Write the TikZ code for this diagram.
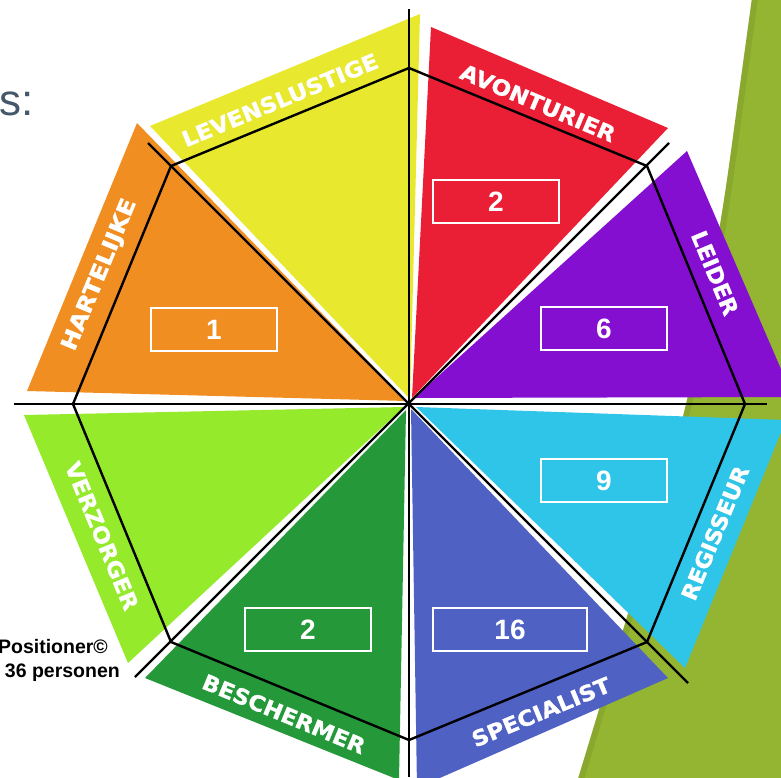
\documentclass[tikz,border=0pt]{standalone}
\usepackage{fontspec}
\setmainfont{Liberation Sans}
\newfontfamily\bandfont{DejaVu Sans Bold}[FakeBold=1.2]
\usepackage{graphicx}
\definecolor{cyel}{HTML}{E8E92E}
\definecolor{cora}{HTML}{F18E22}
\definecolor{cred}{HTML}{EA1F35}
\definecolor{cpur}{HTML}{850FD0}
\definecolor{ccya}{HTML}{2FC5E8}
\definecolor{cblu}{HTML}{4F62C4}
\definecolor{cdgr}{HTML}{25993A}
\definecolor{clim}{HTML}{95EA2B}
\definecolor{coli}{HTML}{93B532}
\definecolor{coli2}{HTML}{7A9626}
\definecolor{cslate}{HTML}{44586A}
\newcommand{\bandtext}[2]{\resizebox{#1}{16pt}{\bandfont #2}}
\begin{document}
\begin{tikzpicture}[x=1pt,y=-1pt,
  blk/.style={line width=2.4pt, black, line cap=butt},
  oct/.style={line width=2.4pt, black, line join=miter},
  numbox/.style={draw=white, line width=2.3pt, minimum height=43pt, text=white,
    font=\fontsize{28}{30}\selectfont\bfseries, inner sep=0pt},
  bandlbl/.style={text=white, inner sep=0pt}]
\useasboundingbox (0,0) rectangle (781,777);
\clip (0,0) rectangle (781,777);
% olive background shape on the right
\fill[coli] plot[smooth, tension=0.6] coordinates {(752,-2) (738,100) (724,200) (707,300) (687,400) (658,510) (627,617) (598,713) (578,779)} -- (783,779) -- (783,-2) -- cycle;
\draw[coli2, line width=6pt, opacity=0.4] plot[smooth, tension=0.6] coordinates {(755,-2) (741,100) (727,200) (710,300) (690,400) (661,510) (630,617) (601,713) (581,779)};
% sectors
\fill[cora] (137,123) -- (27,391) -- (407,401) -- cycle;
\fill[cyel] (150,126) -- (420,14) -- (410,399) -- cycle;
\fill[cred] (431,27) -- (668,128) -- (412,398) -- cycle;
\fill[cpur] (687,151) -- (793,397) -- (414,398) -- cycle;
\fill[ccya] (416,407) -- (786,420) -- (685,668) -- cycle;
\fill[cblu] (411,409) -- (668,678) -- (417,788) -- cycle;
\fill[cdgr] (406,410) -- (399,780) -- (145,678) -- cycle;
\fill[clim] (404,407) -- (24,415) -- (128,663) -- cycle;
% coordinates
\coordinate (c) at (409,404);
\coordinate (o1) at (409,68);
\coordinate (o2) at (647,166);
\coordinate (o3) at (745,404);
\coordinate (o4) at (647,642);
\coordinate (o5) at (409,740);
\coordinate (o6) at (171,642);
\coordinate (o7) at (73,404);
\coordinate (o8) at (171,166);
\coordinate (vt) at (409,9);
\coordinate (vb) at (409,777);
\coordinate (hl) at (14,404);
\coordinate (hr) at (767,404);
\coordinate (d1a) at (148,143);
\coordinate (d1b) at (688,683);
\coordinate (d2a) at (669,143);
\coordinate (d2b) at (135,677);
% axes
\draw[blk] (vt) -- (vb);
\draw[blk] (hl) -- (hr);
\draw[blk] (d1a) -- (d1b);
\draw[blk] (d2a) -- (d2b);
% octagon
\draw[oct] (o1) -- (o2) -- (o3) -- (o4) -- (o5) -- (o6) -- (o7) -- (o8) -- cycle;
% band labels
\node[bandlbl, rotate=22.5] (lev) at (280,100) {\bandtext{210pt}{LEVENSLUSTIGE}};
\node[bandlbl, rotate=-23] (avo) at (538,103) {\bandtext{166pt}{AVONTURIER}};
\node[bandlbl, rotate=-67.5] (lei) at (715,273) {\bandtext{89pt}{LEIDER}};
\node[bandlbl, rotate=67.5] (reg) at (715,533) {\bandtext{143pt}{REGISSEUR}};
\node[bandlbl, rotate=22.5] (spe) at (541,712) {\bandtext{148pt}{SPECIALIST}};
\node[bandlbl, rotate=-22.5] (bes) at (284,714) {\bandtext{174pt}{BESCHERMER}};
\node[bandlbl, rotate=-67.5] (ver) at (102,536) {\bandtext{158pt}{VERZORGER}};
\node[bandlbl, rotate=67.5] (har) at (100,275) {\bandtext{162pt}{HARTELIJKE}};
% number boxes
\node[numbox, minimum width=126pt] (nred) at (496,201.5) {2};
\node[numbox, minimum width=126pt] (npur) at (604,328.5) {6};
\node[numbox, minimum width=126pt] (nora) at (214,329.5) {1};
\node[numbox, minimum width=126pt] (ncya) at (604,480.5) {9};
\node[numbox, minimum width=154pt] (nblu) at (510,629.5) {16};
\node[numbox, minimum width=126pt] (ndgr) at (308,629.5) {2};
% texts
\node[anchor=base east, inner sep=0pt, text=cslate, font=\fontsize{44}{48}\selectfont] (title) at (34,115) {s:};
\node[anchor=base east, inner sep=0pt, font=\fontsize{19.5}{22}\selectfont\bfseries] (pos) at (108,653) {Positioner©};
\node[anchor=base east, inner sep=0pt, font=\fontsize{19.5}{22}\selectfont\bfseries] (pers) at (120,677) {36 personen};
\end{tikzpicture}
\end{document}
